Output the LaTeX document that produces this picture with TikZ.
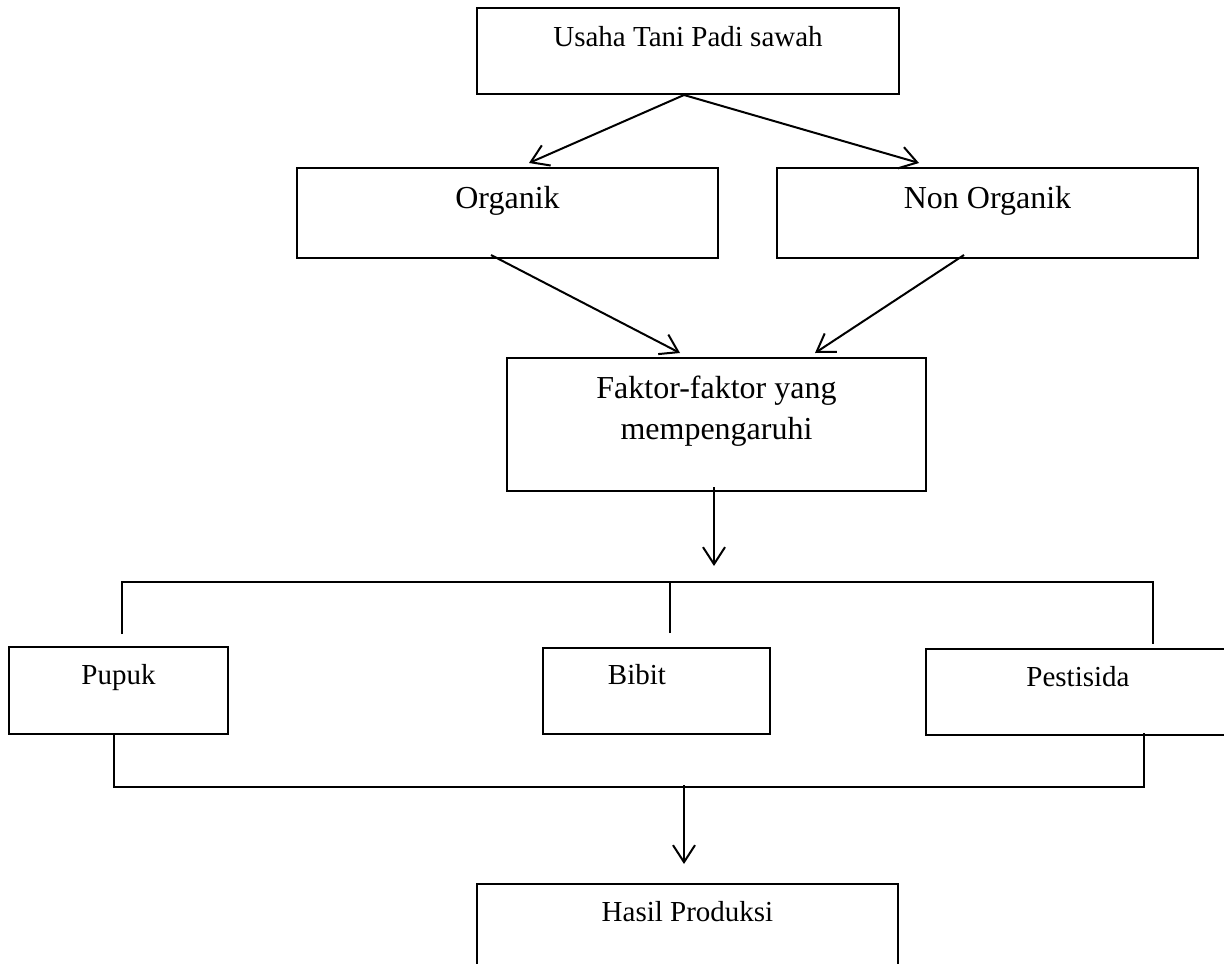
\documentclass[tikz,border=0pt]{standalone}
\usepackage{fontspec}
\setmainfont{Liberation Serif}
\usetikzlibrary{arrows.meta}
\tikzset{
  box/.style={draw, line width=2pt, inner sep=0pt, anchor=north west, align=center},
  bigtext/.style={font=\fontsize{32}{41}\selectfont},
  smalltext/.style={font=\fontsize{29}{35}\selectfont},
  link/.style={line width=1.8pt},
  arr/.style={line width=2pt, -{Straight Barb[length=17pt,width=22pt,line width=2pt]}}
}
\begin{document}
\begin{tikzpicture}[x=1pt,y=-1pt]
\useasboundingbox[fill=white] (0,0) rectangle (1224,964);
% boxes
\node[box, smalltext, minimum width=422pt, text height=38pt, text depth=48pt] (usaha) at (476,7) {Usaha Tani Padi sawah};
\node[box, bigtext, minimum width=421pt, text height=40pt, text depth=50pt] (org) at (296,167) {Organik};
\node[box, bigtext, minimum width=421pt, text height=40pt, text depth=50pt] (non) at (776,167) {Non Organik};
\node[box, bigtext, minimum width=419pt, text height=40pt, text depth=93pt] (faktor) at (506,357)
  {\begin{tabular}[t]{@{}c@{}}Faktor-faktor yang\\mempengaruhi\end{tabular}};
\node[box, smalltext, minimum width=219pt, text height=37pt, text depth=50pt] (pupuk) at (8,646) {Pupuk};
\node[box, smalltext, minimum width=227pt, text height=36pt, text depth=50pt] (bibit) at (542,647) {Bibit\hspace{39pt}};
\node[box, smalltext, minimum width=304pt, text height=37pt, text depth=49pt] (pest) at (925,648) {Pestisida};
\node[box, smalltext, minimum width=421pt, text height=37pt, text depth=100pt] (hasil) at (476,883) {Hasil Produksi};
% arrows top
\draw[arr] ([xshift=-4pt]usaha.south) -- ([xshift=21.5pt,yshift=4pt]org.north);
\draw[arr] ([xshift=-4pt]usaha.south) -- ([xshift=-68.5pt,yshift=4pt]non.north);
\draw[arr] ([xshift=-16.5pt,yshift=4pt]org.south) -- ([xshift=-36.5pt,yshift=4pt]faktor.north);
\draw[arr] ([xshift=-23.5pt,yshift=4pt]non.south) -- ([xshift=98.5pt,yshift=4pt]faktor.north);
\draw[arr] ([xshift=-2.5pt,yshift=5pt]faktor.south) -- ([xshift=-2.5pt,yshift=-74pt]faktor.south);
% upper bracket
\draw[link] ([xshift=3.5pt,yshift=12pt]pupuk.north) -- ++(0,-52) -| ([xshift=75pt,yshift=4pt]pest.north);
\draw[link] ([xshift=13.5pt,yshift=14pt]bibit.north) -- ++(0,-51);
% lower bracket
\draw[link] ([xshift=-4.5pt]pupuk.south) -- ++(0,52) -| ([xshift=66pt,yshift=3pt]pest.south);
\draw[arr] ([xshift=-3.5pt,yshift=98pt]hasil.north) -- ([xshift=-3.5pt,yshift=19pt]hasil.north);
\end{tikzpicture}
\end{document}
